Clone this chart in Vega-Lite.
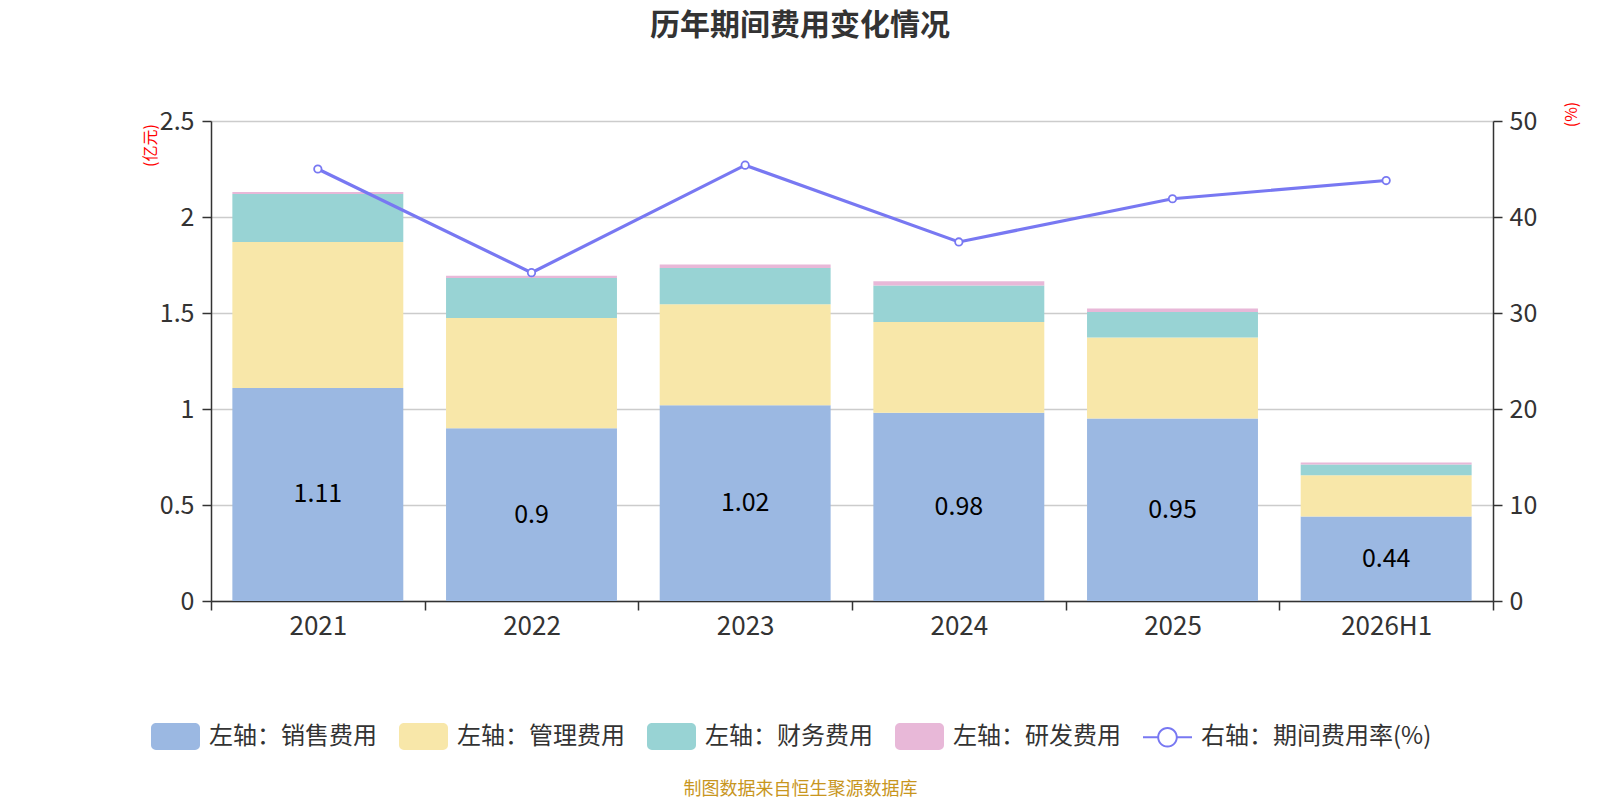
{
  "$schema": "https://vega.github.io/schema/vega-lite/v6.json",
  "autosize": {"type": "none"},
  "width": 1282,
  "height": 480,
  "padding": {"left": 211, "top": 121, "right": 107, "bottom": 199},
  "background": "white",
  "config": {
    "font": "Noto Sans CJK SC",
    "view": {"stroke": null},
    "axis": {
      "labelFont": "Noto Sans CJK SC",
      "labelFontSize": 25,
      "labelColor": "#333333",
      "domainColor": "#333333",
      "domainWidth": 1.5,
      "tickColor": "#333333",
      "tickWidth": 1.5,
      "tickSize": 9
    }
  },
  "title": {
    "text": "历年期间费用变化情况",
    "fontSize": 30,
    "fontWeight": "bold",
    "color": "#333333",
    "anchor": "middle",
    "dx": -52,
    "offset": 60
  },
  "datasets": {
    "bars": [
      {"year": "2021", "type": "销售费用", "value": 1.11},
      {"year": "2021", "type": "管理费用", "value": 0.76},
      {"year": "2021", "type": "财务费用", "value": 0.25},
      {"year": "2021", "type": "研发费用", "value": 0.01},
      {"year": "2022", "type": "销售费用", "value": 0.9},
      {"year": "2022", "type": "管理费用", "value": 0.574},
      {"year": "2022", "type": "财务费用", "value": 0.208},
      {"year": "2022", "type": "研发费用", "value": 0.012},
      {"year": "2023", "type": "销售费用", "value": 1.02},
      {"year": "2023", "type": "管理费用", "value": 0.525},
      {"year": "2023", "type": "财务费用", "value": 0.189},
      {"year": "2023", "type": "研发费用", "value": 0.019},
      {"year": "2024", "type": "销售费用", "value": 0.98},
      {"year": "2024", "type": "管理费用", "value": 0.473},
      {"year": "2024", "type": "财务费用", "value": 0.19},
      {"year": "2024", "type": "研发费用", "value": 0.023},
      {"year": "2025", "type": "销售费用", "value": 0.95},
      {"year": "2025", "type": "管理费用", "value": 0.423},
      {"year": "2025", "type": "财务费用", "value": 0.132},
      {"year": "2025", "type": "研发费用", "value": 0.019},
      {"year": "2026H1", "type": "销售费用", "value": 0.44},
      {"year": "2026H1", "type": "管理费用", "value": 0.215},
      {"year": "2026H1", "type": "财务费用", "value": 0.056},
      {"year": "2026H1", "type": "研发费用", "value": 0.01}
    ],
    "rate": [
      {"year": "2021", "rate": 45.0},
      {"year": "2022", "rate": 34.2},
      {"year": "2023", "rate": 45.4},
      {"year": "2024", "rate": 37.4},
      {"year": "2025", "rate": 41.9},
      {"year": "2026H1", "rate": 43.8}
    ]
  },
  "encoding": {
    "x": {
      "field": "year",
      "type": "nominal",
      "sort": null,
      "scale": {"paddingInner": 0, "paddingOuter": 0},
      "axis": {
        "labelAngle": 0,
        "labelFontSize": 26,
        "labelPadding": 3,
        "tickBand": "extent",
        "grid": false,
        "title": "制图数据来自恒生聚源数据库",
        "titleFont": "Noto Sans CJK SC",
        "titleFontSize": 18,
        "titleFontWeight": "normal",
        "titleColor": "#c8961e",
        "titleX": 589,
        "titleY": 188,
        "titleAlign": "center",
        "titleBaseline": "middle"
      }
    }
  },
  "layer": [
    {
      "data": {"name": "bars"},
      "transform": [
        {"calculate": "indexof(['销售费用', '管理费用', '财务费用', '研发费用'], datum.type)", "as": "stack_order"}
      ],
      "mark": {"type": "bar", "width": {"band": 0.8}},
      "encoding": {
        "y": {
          "field": "value",
          "type": "quantitative",
          "stack": "zero",
          "scale": {"domain": [0, 2.5], "nice": false},
          "axis": {
            "orient": "left",
            "values": [0, 0.5, 1, 1.5, 2, 2.5],
            "format": "~g",
            "labelPadding": 8,
            "grid": true,
            "gridColor": "#cccccc",
            "gridWidth": 1.5,
            "title": "(亿元)",
            "titleFont": "Noto Sans CJK SC",
            "titleFontSize": 16,
            "titleFontWeight": "normal",
            "titleColor": "#ff0000",
            "titleAngle": -90,
            "titleX": -61,
            "titleY": 24,
            "titleAlign": "center",
            "titleBaseline": "middle"
          }
        },
        "order": {"field": "stack_order", "type": "quantitative", "sort": "ascending"},
        "color": {
          "field": "type",
          "type": "nominal",
          "sort": ["销售费用", "管理费用", "财务费用", "研发费用", "期间费用率(%)"],
          "scale": {
            "domain": ["销售费用", "管理费用", "财务费用", "研发费用", "期间费用率(%)"],
            "range": ["#9bb8e2", "#f8e7a9", "#98d3d4", "#e8b8d8", "#7878f2"]
          },
          "legend": {
            "orient": "none",
            "legendX": -60,
            "legendY": 591,
            "direction": "horizontal",
            "columns": 5,
            "columnPadding": 22,
            "title": null,
            "labelFont": "Noto Sans CJK SC",
            "labelFontSize": 24,
            "labelColor": "#333333",
            "labelOffset": 9,
            "labelLimit": 400,
            "symbolSize": 2401,
            "labelExpr": "datum.label === '期间费用率(%)' ? '右轴：' + datum.label : '左轴：' + datum.label",
            "encode": {
              "symbols": {
                "update": {
                  "shape": {"signal": "datum.value === '期间费用率(%)' ? 'M-1,-0.045 H-0.4 V0.045 H-1 Z M0.4,-0.045 H1 V0.045 H0.4 Z M-0.42,0 A0.42,0.42 0 1 1 0.42,0 A0.42,0.42 0 1 1 -0.42,0 Z M-0.34,0 A0.34,0.34 0 1 0 0.34,0 A0.34,0.34 0 1 0 -0.34,0 Z' : 'M-0.8,-0.55 H0.8 A0.2,0.2 0 0 1 1,-0.35 V0.35 A0.2,0.2 0 0 1 0.8,0.55 H-0.8 A0.2,0.2 0 0 1 -1,0.35 V-0.35 A0.2,0.2 0 0 1 -0.8,-0.55 Z'"},
                  "strokeWidth": {"value": 0},
                  "opacity": {"value": 1},
                  "fillOpacity": {"value": 1}
                }
              }
            }
          }
        }
      }
    },
    {
      "data": {"name": "bars"},
      "transform": [{"filter": "datum.type === '销售费用'"}],
      "mark": {"type": "text", "fontSize": 25, "color": "#000000", "baseline": "middle", "font": "Noto Sans CJK SC"},
      "encoding": {
        "y": {
          "field": "value",
          "type": "quantitative",
          "scale": {"domain": [0, 5], "nice": false},
          "axis": null
        },
        "text": {"field": "value", "type": "quantitative", "format": "~g"}
      }
    },
    {
      "data": {"name": "rate"},
      "mark": {
        "type": "line",
        "strokeWidth": 3.2,
        "point": {"filled": false, "fill": "white", "size": 55, "strokeWidth": 1.8, "opacity": 1}
      },
      "encoding": {
        "y": {
          "field": "rate",
          "type": "quantitative",
          "scale": {"domain": [0, 50], "nice": false},
          "axis": {
            "orient": "right",
            "values": [0, 10, 20, 30, 40, 50],
            "labelPadding": 7,
            "grid": false,
            "title": "(%)",
            "titleFont": "Noto Sans CJK SC",
            "titleFontSize": 16,
            "titleFontWeight": "normal",
            "titleColor": "#ff0000",
            "titleAngle": -90,
            "titleX": 78,
            "titleY": -7,
            "titleAlign": "center",
            "titleBaseline": "middle"
          }
        },
        "color": {"datum": "期间费用率(%)", "type": "nominal"}
      }
    }
  ],
  "resolve": {"scale": {"y": "independent"}}
}
